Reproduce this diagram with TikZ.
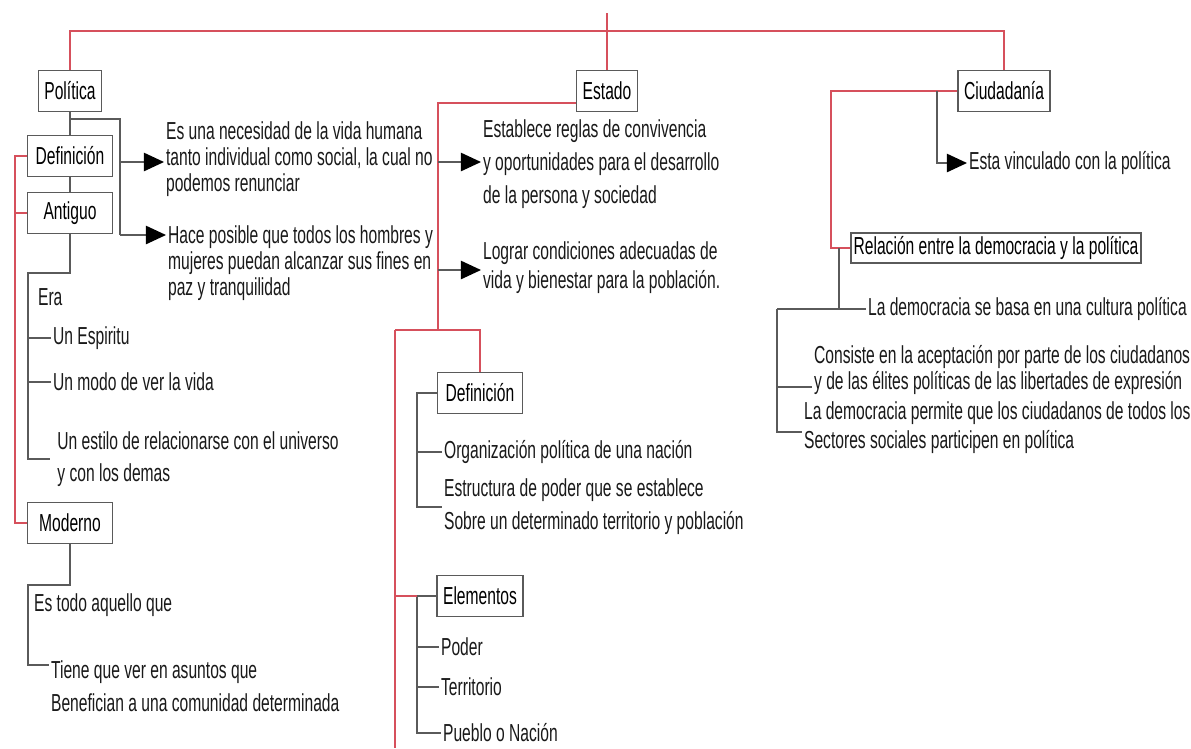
\documentclass[tikz,border=0pt]{standalone}
\usepackage{fontspec}
\setmainfont{Liberation Sans}[FakeStretch=0.635]
\usetikzlibrary{arrows.meta}
\definecolor{rojo}{RGB}{214,80,92}
\definecolor{gris}{RGB}{90,90,90}

\begin{document}
\begin{tikzpicture}[x=0.02cm, y=-0.02cm,
    caja/.style={draw=gris, line width=0.8pt, fill=white, inner xsep=3.4pt, minimum height=23.5pt, font=\fontsize{14}{15}\selectfont},
    texto/.style={anchor=west, inner sep=1pt, align=left, text=black!90, font=\fontsize{14}{15}\selectfont},
    linearoja/.style={draw=rojo, line width=0.9pt},
    lineagris/.style={draw=gris, line width=0.8pt},
    flecha/.style={lineagris, -{Triangle[length=11.5pt,width=10.5pt,color=black]}}]
    \useasboundingbox (0,0) rectangle (1191,748);

    % Top bar with the three main boxes
    \coordinate (raiz) at (607,13);
    \coordinate (barra) at (607,31);
    \node[caja] (politica) at (70,91) {Política};
    \node[caja] (estado) at (607,91) {Estado};
    \node[caja] (ciudadania) at (1004,91) {Ciudadanía};
    \draw[linearoja] (raiz) -- (estado.north);
    \draw[linearoja] (politica.north) |- (barra) -| (ciudadania.north);

    % Politica: boxes on the left
    \node[caja, minimum width=1.7cm] (defpol) at (70,156) {Definición};
    \node[caja, minimum width=1.7cm] (antiguo) at (70,213) {Antiguo};
    \node[caja, minimum width=1.7cm] (moderno) at (70,523) {Moderno};
    \draw[lineagris] (politica.south) -- (defpol.north);
    \draw[lineagris] (defpol.south) -- (antiguo.north);
    \draw[linearoja] (defpol.west) -- ++(-12,0) |- (moderno.west);
    \draw[linearoja] (antiguo.west) -- ++(-12,0);

    % Politica: arrows to the two texts
    \coordinate (p1) at (70,119);
    \coordinate (p2) at (120,119);
    \coordinate (p3) at (120,162);
    \coordinate (p4) at (120,235);
    \node[texto] (necesidad) at (164,159) {Es una necesidad de la vida humana\\tanto individual como social, la cual no\\podemos renunciar};
    \node[texto] (hace) at (166,263) {Hace posible que todos los hombres y\\mujeres puedan alcanzar sus fines en\\paz y tranquilidad};
    \draw[lineagris] (p1) -- (p2) -- (p4);
    \draw[flecha] (p3) -- (p3 -| necesidad.west);
    \draw[flecha] (p4) -- (p4 -| hace.west);

    % Antiguo
    \coordinate (a1) at (28,273);
    \node[texto] (era) at (36,297) {Era};
    \node[texto] (espiritu) at (51,338) {Un Espiritu};
    \node[texto] (modo) at (51,382) {Un modo de ver la vida};
    \node[texto, inner xsep=4pt] (estilo) at (50,459) {Un estilo de relacionarse con el universo\\[3pt]y con los demas};
    \draw[lineagris] (antiguo.south) |- (a1) |- (estilo.west);
    \draw[lineagris] (espiritu.west) -- (espiritu.west -| a1);
    \draw[lineagris] (modo.west) -- (modo.west -| a1);

    % Moderno
    \coordinate (m1) at (28,585);
    \coordinate (m2) at (28,665);
    \node[texto] (todo) at (32,605) {Es todo aquello que};
    \node[texto] (tiene) at (49,686) {Tiene que ver en asuntos que\\[3.5pt]Benefician a una comunidad determinada};
    \draw[lineagris] (moderno.south) |- (m1) -- (m2) -- (m2 -| tiene.west);

    % Estado
    \coordinate (e0) at (438,103);
    \coordinate (e1) at (438,330);
    \coordinate (e2) at (395,330);
    \coordinate (e3) at (480,330);
    \coordinate (e4) at (395,748);
    \coordinate (e5) at (438,162);
    \coordinate (e6) at (438,270);
    \node[texto] (reglas) at (481,164) {Establece reglas de convivencia\\[3.7pt]y oportunidades para el desarrollo\\[3.7pt]de la persona y sociedad};
    \node[texto] (lograr) at (481,268) {Lograr condiciones adecuadas de\\[1.5pt]vida y bienestar para la población.};
    \node[caja, minimum width=1.7cm] (defest) at (480,393) {Definición};
    \node[caja, minimum width=1.7cm] (elementos) at (480,596) {Elementos};
    \draw[linearoja] (e0 -| estado.west) -- (e0) -- (e1);
    \draw[linearoja] (e2) -- (e3) -- (defest.north);
    \draw[linearoja] (e2) -- (e4);
    \draw[flecha] (e5) -- (e5 -| reglas.west);
    \draw[flecha] (e6) -- (e6 -| lograr.west);

    % Estado: definicion
    \coordinate (d1) at (417,507);
    \node[texto] (organizacion) at (442,452) {Organización política de una nación};
    \node[texto] (estructura) at (442,507) {Estructura de poder que se establece\\[3.7pt]Sobre un determinado territorio y población};
    \draw[lineagris] (defest.west) -| (d1) -- (estructura.west);
    \draw[lineagris] (organizacion.west) -- (organizacion.west -| d1);

    % Estado: elementos
    \coordinate (el1) at (417,733);
    \node[texto] (poder) at (439,647) {Poder};
    \node[texto] (territorio) at (439,687) {Territorio};
    \node[texto] (pueblo) at (441,733) {Pueblo o Nación};
    \draw[lineagris] (elementos.west) -| (el1) -- (pueblo.west);
    \draw[lineagris] (poder.west) -- (poder.west -| el1);
    \draw[lineagris] (territorio.west) -- (territorio.west -| el1);
    \draw[linearoja] (elementos.west -| e2) -- (elementos.west -| el1);

    % Ciudadania
    \coordinate (c1) at (831,91);
    \coordinate (c2) at (937,91);
    \node[texto] (vinculado) at (967,163) {Esta vinculado con la política};
    \node[caja, inner xsep=1.5pt, inner ysep=1pt, minimum height=17pt] (relacion) at (996,248) {Relación entre la democracia y la política};
    \draw[linearoja] (ciudadania.west) -- (c1) |- (relacion.west);
    \draw[flecha] (c2) |- (vinculado.west);

    % Ciudadania: relacion
    \coordinate (r1) at (839,309);
    \coordinate (r2) at (777,309);
    \coordinate (r3) at (777,432);
    \coordinate (r4) at (777,387);
    \node[texto] (cultura) at (866,309) {La democracia se basa en una cultura política};
    \node[texto] (consiste) at (812,370) {Consiste en la aceptación por parte de los ciudadanos\\y de las élites políticas de las libertades de expresión};
    \node[texto] (permite) at (802,428) {La democracia permite que los ciudadanos de todos los\\[1.5pt]Sectores sociales participen en política};
    \draw[lineagris] (relacion.west -| r1) -- (r1);
    \draw[lineagris] (r2) -- (cultura.west);
    \draw[lineagris] (r2) -- (r3) -- (r3 -| permite.west);
    \draw[lineagris] (r4) -- (r4 -| consiste.west);
\end{tikzpicture}
\end{document}
